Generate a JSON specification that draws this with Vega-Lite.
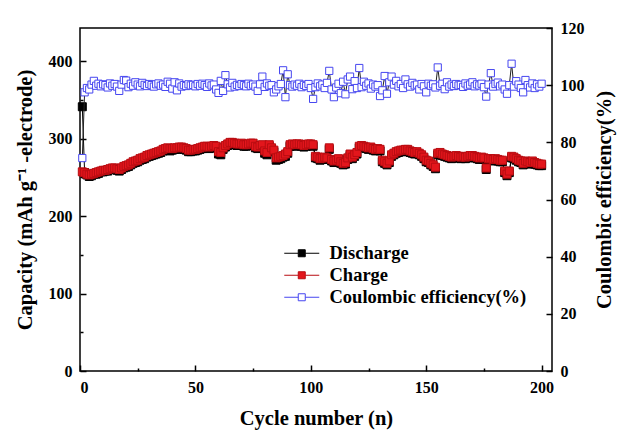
{
  "$schema": "https://vega.github.io/schema/vega-lite/v6.json",
  "width": 472,
  "height": 343,
  "autosize": {"type": "none"},
  "padding": {"left": 80, "top": 28, "right": 72, "bottom": 61},
  "background": "white",
  "config": {
    "view": {"stroke": "black", "strokeWidth": 1.5},
    "font": "Liberation Serif",
    "axis": {
      "labelFont": "Liberation Serif", "labelFontWeight": "bold", "labelFontSize": 16, "labelColor": "black",
      "titleFont": "Liberation Serif", "titleFontWeight": "bold", "titleFontSize": 20.5, "titleColor": "black",
      "domain": false, "grid": false, "tickColor": "black", "tickWidth": 1.5
    },
    "legend": {
      "orient": "none", "legendX": 212.5, "legendY": 216, "padding": 0,
      "labelFont": "Liberation Serif", "labelFontWeight": "bold", "labelFontSize": 18.5, "labelColor": "black", "labelLimit": 400,
      "symbolSize": 196, "symbolStrokeWidth": 1, "labelOffset": 18.5, "rowPadding": 3
    }
  },
  "data": {"values": [
    {"n":1,"d":341,"c":257,"e":74.5},{"n":2,"d":256,"c":256,"e":97.5},{"n":3,"d":253,"c":254,"e":99.0},{"n":4,"d":251,"c":253,"e":98.5},{"n":5,"d":252,"c":254,"e":100.2},
    {"n":6,"d":254,"c":255,"e":101.5},{"n":7,"d":254,"c":256,"e":99.8},{"n":8,"d":255,"c":257,"e":100.5},{"n":9,"d":257,"c":258,"e":99.6},{"n":10,"d":257,"c":259,"e":100.3},
    {"n":11,"d":258,"c":259,"e":100.0},{"n":12,"d":258,"c":260,"e":99.2},{"n":13,"d":260,"c":261,"e":100.6},{"n":14,"d":260,"c":262,"e":99.8},{"n":15,"d":261,"c":262,"e":100.4},
    {"n":16,"d":259,"c":261,"e":99.5},{"n":17,"d":258,"c":260,"e":98.0},{"n":18,"d":260,"c":262,"e":100.2},{"n":19,"d":262,"c":264,"e":101.8},{"n":20,"d":263,"c":265,"e":101.6},
    {"n":21,"d":264,"c":266,"e":99.3},{"n":22,"d":266,"c":268,"e":100.5},{"n":23,"d":268,"c":270,"e":99.8},{"n":24,"d":269,"c":271,"e":101.0},{"n":25,"d":270,"c":272,"e":100.2},
    {"n":26,"d":272,"c":274,"e":99.6},{"n":27,"d":273,"c":275,"e":100.8},{"n":28,"d":274,"c":276,"e":100.1},{"n":29,"d":276,"c":278,"e":99.7},{"n":30,"d":277,"c":279,"e":100.4},
    {"n":31,"d":278,"c":280,"e":100.0},{"n":32,"d":279,"c":281,"e":99.5},{"n":33,"d":280,"c":282,"e":100.3},{"n":34,"d":281,"c":283,"e":100.6},{"n":35,"d":282,"c":284,"e":99.8},
    {"n":36,"d":284,"c":286,"e":100.2},{"n":37,"d":285,"c":287,"e":99.4},{"n":38,"d":286,"c":288,"e":101.2},{"n":39,"d":284,"c":287,"e":100.5},{"n":40,"d":285,"c":287,"e":98.8},
    {"n":41,"d":286,"c":288,"e":101.0},{"n":42,"d":286,"c":288,"e":98.2},{"n":43,"d":287,"c":289,"e":100.6},{"n":44,"d":287,"c":289,"e":99.5},{"n":45,"d":286,"c":288,"e":100.0},
    {"n":46,"d":285,"c":287,"e":99.7},{"n":47,"d":283,"c":285,"e":100.3},{"n":48,"d":283,"c":285,"e":99.9},{"n":49,"d":284,"c":286,"e":100.1},{"n":50,"d":284,"c":286,"e":99.6},
    {"n":51,"d":285,"c":287,"e":100.4},{"n":52,"d":286,"c":288,"e":99.8},{"n":53,"d":287,"c":289,"e":100.5},{"n":54,"d":288,"c":290,"e":100.0},{"n":55,"d":288,"c":290,"e":99.4},
    {"n":56,"d":287,"c":289,"e":100.6},{"n":57,"d":288,"c":290,"e":99.9},{"n":58,"d":289,"c":291,"e":100.2},{"n":59,"d":288,"c":290,"e":98.5},{"n":60,"d":280,"c":283,"e":97.3},
    {"n":61,"d":279,"c":282,"e":101.5},{"n":62,"d":286,"c":288,"e":98.0},{"n":63,"d":289,"c":291,"e":103.5},{"n":64,"d":291,"c":293,"e":100.3},{"n":65,"d":293,"c":295,"e":99.2},
    {"n":66,"d":293,"c":295,"e":100.8},{"n":67,"d":292,"c":294,"e":99.5},{"n":68,"d":291,"c":293,"e":100.1},{"n":69,"d":291,"c":293,"e":99.7},{"n":70,"d":292,"c":294,"e":100.4},
    {"n":71,"d":290,"c":292,"e":100.0},{"n":72,"d":290,"c":292,"e":99.6},{"n":73,"d":291,"c":293,"e":100.5},{"n":74,"d":292,"c":294,"e":99.8},{"n":75,"d":292,"c":294,"e":100.2},
    {"n":76,"d":288,"c":290,"e":99.5},{"n":77,"d":287,"c":289,"e":98.0},{"n":78,"d":289,"c":291,"e":100.3},{"n":79,"d":290,"c":292,"e":103.0},{"n":80,"d":281,"c":284,"e":99.4},
    {"n":81,"d":279,"c":282,"e":100.6},{"n":82,"d":290,"c":292,"e":99.8},{"n":83,"d":286,"c":288,"e":100.0},{"n":84,"d":283,"c":285,"e":97.5},{"n":85,"d":272,"c":275,"e":98.5},
    {"n":86,"d":273,"c":276,"e":99.6},{"n":87,"d":274,"c":277,"e":100.4},{"n":88,"d":276,"c":278,"e":105.2},{"n":89,"d":277,"c":280,"e":95.8},{"n":90,"d":281,"c":283,"e":103.8},
    {"n":91,"d":290,"c":292,"e":100.0},{"n":92,"d":291,"c":293,"e":99.5},{"n":93,"d":290,"c":292,"e":100.2},{"n":94,"d":291,"c":293,"e":99.8},{"n":95,"d":291,"c":293,"e":100.5},
    {"n":96,"d":290,"c":292,"e":99.3},{"n":97,"d":289,"c":291,"e":100.1},{"n":98,"d":290,"c":292,"e":99.7},{"n":99,"d":291,"c":293,"e":100.4},{"n":100,"d":291,"c":293,"e":99.0},
    {"n":101,"d":290,"c":292,"e":95.2},{"n":102,"d":275,"c":277,"e":99.3},{"n":103,"d":274,"c":276,"e":100.6},{"n":104,"d":272,"c":274,"e":99.6},{"n":105,"d":273,"c":275,"e":100.2},
    {"n":106,"d":274,"c":276,"e":99.0},{"n":107,"d":273,"c":275,"e":100.8},{"n":108,"d":286,"c":288,"e":105.0},{"n":109,"d":271,"c":273,"e":98.5},{"n":110,"d":269,"c":271,"e":95.8},
    {"n":111,"d":270,"c":272,"e":99.2},{"n":112,"d":272,"c":274,"e":100.5},{"n":113,"d":268,"c":270,"e":97.2},{"n":114,"d":266,"c":268,"e":101.2},{"n":115,"d":267,"c":269,"e":96.8},
    {"n":116,"d":273,"c":275,"e":102.0},{"n":117,"d":278,"c":280,"e":103.0},{"n":118,"d":274,"c":276,"e":98.6},{"n":119,"d":277,"c":279,"e":101.4},{"n":120,"d":280,"c":282,"e":99.0},
    {"n":121,"d":288,"c":290,"e":106.0},{"n":122,"d":289,"c":291,"e":99.3},{"n":123,"d":288,"c":290,"e":101.2},{"n":124,"d":287,"c":289,"e":99.8},{"n":125,"d":286,"c":288,"e":100.6},
    {"n":126,"d":287,"c":289,"e":98.8},{"n":127,"d":285,"c":287,"e":100.2},{"n":128,"d":284,"c":286,"e":99.5},{"n":129,"d":285,"c":287,"e":100.0},{"n":130,"d":284,"c":286,"e":96.2},
    {"n":131,"d":270,"c":272,"e":98.2},{"n":132,"d":268,"c":270,"e":103.2},{"n":133,"d":266,"c":268,"e":97.0},{"n":134,"d":269,"c":271,"e":101.0},{"n":135,"d":277,"c":279,"e":103.0},
    {"n":136,"d":279,"c":281,"e":100.2},{"n":137,"d":281,"c":283,"e":101.5},{"n":138,"d":282,"c":284,"e":99.6},{"n":139,"d":283,"c":285,"e":100.4},{"n":140,"d":283,"c":285,"e":99.0},
    {"n":141,"d":284,"c":286,"e":102.0},{"n":142,"d":284,"c":286,"e":100.3},{"n":143,"d":282,"c":284,"e":99.5},{"n":144,"d":281,"c":283,"e":100.8},{"n":145,"d":280,"c":282,"e":99.9},
    {"n":146,"d":281,"c":283,"e":100.2},{"n":147,"d":279,"c":281,"e":98.5},{"n":148,"d":277,"c":279,"e":100.4},{"n":149,"d":274,"c":276,"e":99.6},{"n":150,"d":270,"c":272,"e":97.5},
    {"n":151,"d":269,"c":271,"e":100.5},{"n":152,"d":266,"c":268,"e":99.8},{"n":153,"d":264,"c":266,"e":100.3},{"n":154,"d":261,"c":263,"e":99.2},{"n":155,"d":279,"c":281,"e":106.2},
    {"n":156,"d":280,"c":282,"e":99.8},{"n":157,"d":278,"c":280,"e":100.5},{"n":158,"d":277,"c":279,"e":98.6},{"n":159,"d":276,"c":278,"e":101.0},{"n":160,"d":275,"c":277,"e":99.5},
    {"n":161,"d":274,"c":276,"e":100.2},{"n":162,"d":275,"c":277,"e":99.7},{"n":163,"d":276,"c":278,"e":100.4},{"n":164,"d":275,"c":277,"e":99.9},{"n":165,"d":274,"c":276,"e":100.1},
    {"n":166,"d":275,"c":277,"e":99.4},{"n":167,"d":274,"c":276,"e":100.6},{"n":168,"d":275,"c":277,"e":99.8},{"n":169,"d":276,"c":278,"e":100.2},{"n":170,"d":276,"c":278,"e":101.0},
    {"n":171,"d":275,"c":277,"e":99.6},{"n":172,"d":274,"c":276,"e":100.3},{"n":173,"d":273,"c":275,"e":99.9},{"n":174,"d":274,"c":276,"e":100.5},{"n":175,"d":273,"c":275,"e":99.3},
    {"n":176,"d":260,"c":262,"e":96.0},{"n":177,"d":272,"c":274,"e":100.2},{"n":178,"d":272,"c":274,"e":104.2},{"n":179,"d":271,"c":273,"e":99.5},{"n":180,"d":272,"c":274,"e":100.4},
    {"n":181,"d":271,"c":273,"e":100.9},{"n":182,"d":270,"c":272,"e":99.6},{"n":183,"d":270,"c":272,"e":100.2},{"n":184,"d":256,"c":258,"e":98.5},{"n":185,"d":252,"c":254,"e":97.0},
    {"n":186,"d":256,"c":258,"e":100.0},{"n":187,"d":275,"c":277,"e":107.5},{"n":188,"d":274,"c":276,"e":99.5},{"n":189,"d":272,"c":274,"e":101.4},{"n":190,"d":270,"c":272,"e":100.2},
    {"n":191,"d":269,"c":271,"e":99.0},{"n":192,"d":266,"c":268,"e":97.5},{"n":193,"d":269,"c":271,"e":101.8},{"n":194,"d":268,"c":270,"e":100.0},{"n":195,"d":267,"c":269,"e":99.2},
    {"n":196,"d":269,"c":271,"e":100.6},{"n":197,"d":267,"c":269,"e":99.0},{"n":198,"d":266,"c":268,"e":100.3},{"n":199,"d":265,"c":267,"e":99.5},{"n":200,"d":265,"c":267,"e":100.5}
  ]},
  "encoding": {
    "x": {
      "field": "n", "type": "quantitative",
      "scale": {"domain": [0, 204.5], "nice": false, "zero": false},
      "axis": {
        "title": "Cycle number (n)",
        "values": [0, 25, 50, 75, 100, 125, 150, 175, 200],
        "labelExpr": "datum.value % 50 === 0 ? datum.label : ''",
        "tickSize": {"condition": {"test": "datum.value % 50 === 0", "value": -6}, "value": -3},
        "labelPadding": 14, "titlePadding": 13
      }
    }
  },
  "layer": [
    {
      "layer": [
        {
          "mark": {"type": "line", "color": "black", "strokeWidth": 1},
          "encoding": {
            "y": {
              "field": "d", "type": "quantitative",
              "scale": {"domain": [0, 442.6], "nice": false},
              "axis": {
                "title": "Capacity (mAh g⁻¹ -electrode)",
                "values": [0, 50, 100, 150, 200, 250, 300, 350, 400],
                "labelExpr": "datum.value % 100 === 0 ? datum.label : ''",
                "tickSize": {"condition": {"test": "datum.value % 100 === 0", "value": -6}, "value": -3},
                "labelPadding": 14, "titlePadding": 13
              }
            }
          }
        },
        {
          "mark": {"type": "square", "size": 64, "opacity": 1, "strokeWidth": 1},
          "encoding": {
            "y": {"field": "d", "type": "quantitative", "scale": {"domain": [0, 442.6], "nice": false}, "axis": {"title": "Capacity (mAh g⁻¹ -electrode)"}},
            "fill": {
              "datum": "Discharge",
              "scale": {"domain": ["Discharge", "Charge", "Coulombic efficiency(%)"], "range": ["black", "#e3161c", "white"]},
              "legend": {
                "title": null,
                "symbolType": "M-2.5,0H-0.5M0.5,0H2.5M-0.5,-0.5H0.5V0.5H-0.5Z"
              }
            },
            "stroke": {
              "datum": "Discharge",
              "scale": {"domain": ["Discharge", "Charge", "Coulombic efficiency(%)"], "range": ["black", "#b80d12", "#4646f0"]},
              "legend": {"title": null, "symbolType": "M-2.5,0H-0.5M0.5,0H2.5M-0.5,-0.5H0.5V0.5H-0.5Z"}
            }
          }
        },
        {
          "mark": {"type": "line", "color": "black", "strokeWidth": 1},
          "encoding": {
            "y": {"field": "c", "type": "quantitative", "scale": {"domain": [0, 442.6], "nice": false}, "axis": {"title": "Capacity (mAh g⁻¹ -electrode)"}}
          }
        },
        {
          "mark": {"type": "square", "size": 64, "opacity": 1, "strokeWidth": 1},
          "encoding": {
            "y": {"field": "c", "type": "quantitative", "scale": {"domain": [0, 442.6], "nice": false}, "axis": {"title": "Capacity (mAh g⁻¹ -electrode)"}},
            "fill": {"datum": "Charge"},
            "stroke": {"datum": "Charge"}
          }
        }
      ]
    },
    {
      "layer": [
        {
          "mark": {"type": "line", "color": "#222222", "strokeWidth": 1},
          "encoding": {
            "y": {
              "field": "e", "type": "quantitative",
              "scale": {"domain": [0, 120], "nice": false},
              "axis": {
                "orient": "right",
                "title": "Coulombic efficiency(%)",
                "titleAngle": 270,
                "values": [0, 10, 20, 30, 40, 50, 60, 70, 80, 90, 100, 110, 120],
                "labelExpr": "datum.value % 20 === 0 ? datum.label : ''",
                "tickSize": {"condition": {"test": "datum.value % 20 === 0", "value": -6}, "value": -3},
                "labelPadding": 14, "titlePadding": 30
              }
            }
          }
        },
        {
          "mark": {"type": "square", "size": 52, "opacity": 1, "strokeWidth": 1},
          "encoding": {
            "y": {"field": "e", "type": "quantitative", "scale": {"domain": [0, 120], "nice": false}, "axis": {"orient": "right", "title": "Coulombic efficiency(%)"}},
            "fill": {"datum": "Coulombic efficiency(%)"},
            "stroke": {"datum": "Coulombic efficiency(%)"}
          }
        }
      ]
    }
  ],
  "resolve": {"scale": {"y": "independent"}}
}
